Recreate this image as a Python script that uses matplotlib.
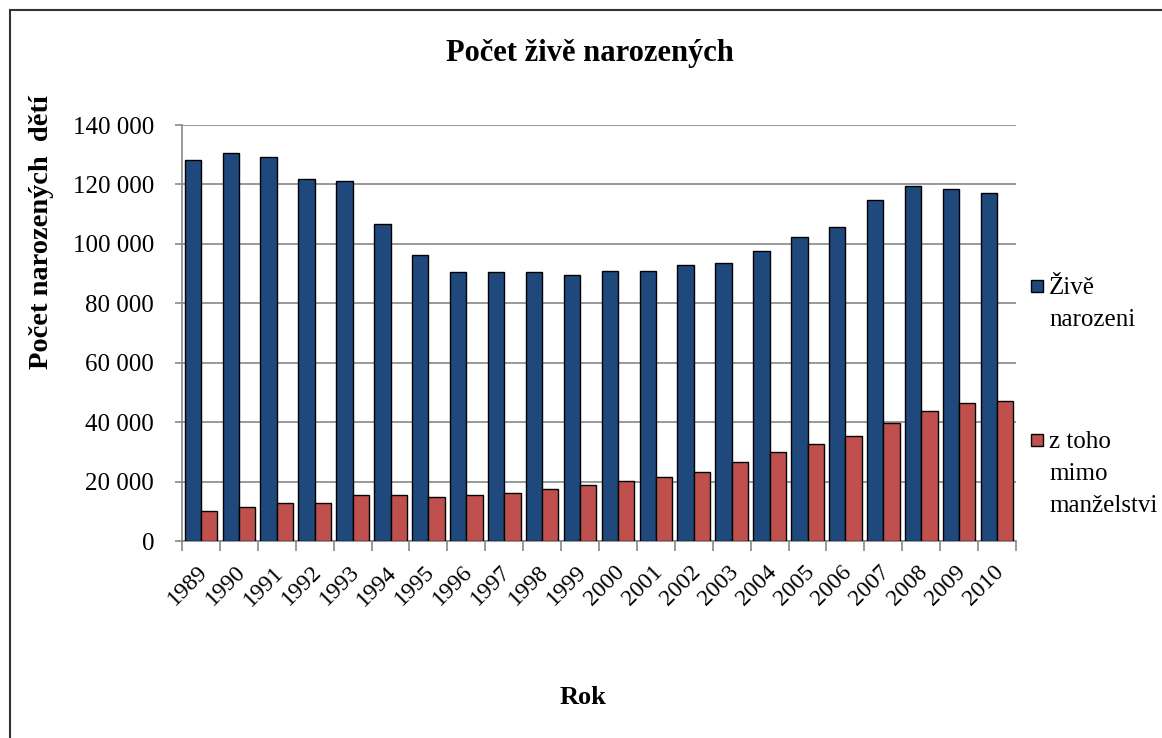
import numpy as np
import matplotlib.pyplot as plt
import matplotlib.transforms as mtransforms
from matplotlib.patches import Rectangle
from matplotlib.lines import Line2D
from matplotlib.ticker import FuncFormatter, FixedLocator

# Data
years = [str(y) for y in range(1989, 2011)]
zive = [128356, 130564, 129354, 121705, 121025, 106579, 96097, 90446,
        90657, 90535, 89471, 90910, 90715, 92786, 93685, 97664, 102211,
        105831, 114632, 119570, 118348, 117153]
mimo = [10200, 11500, 12900, 12900, 15500, 15500, 14800, 15500,
        16200, 17500, 18700, 20100, 21400, 23300, 26600, 29800, 32500,
        35200, 39700, 43600, 46300, 47000]
labels = ['Živě\nnarozeni', 'z toho\nmimo\nmanželstvi']
colors = ['#1F497D', '#C0504D']

plt.rcParams['font.family'] = ['Liberation Serif', 'DejaVu Serif']

W, H = 1162, 738
fig = plt.figure(figsize=(W / 100, H / 100), dpi=100)
ax = fig.add_axes([182 / W, 1 - 541 / H, (1016 - 182) / W, (541 - 125) / H])

x = np.arange(len(years))
bw = 0.43
ax.bar(x - bw / 2, zive, bw, color=colors[0], edgecolor='black', linewidth=1, zorder=3)
ax.bar(x + bw / 2, mimo, bw, color=colors[1], edgecolor='black', linewidth=1, zorder=3)

ax.set_xlim(-0.5, len(years) - 0.5)
ax.set_ylim(0, 140000)
ax.set_yticks(np.arange(0, 140001, 20000))
ax.yaxis.set_major_formatter(FuncFormatter(lambda v, p: f'{int(v):,}'.replace(',', ' ')))
ax.grid(axis='y', color='#888888', linewidth=1.2, zorder=0)

# ticks between categories, labels at category centres
ax.set_xticks(x)
ax.set_xticklabels(years, rotation=45, ha='right', rotation_mode='anchor', fontsize=17)
ax.tick_params(axis='x', length=0, pad=15)
shift = mtransforms.ScaledTranslation(-4 / 100, 0, fig.dpi_scale_trans)
for t in ax.get_xticklabels():
    t.set_transform(t.get_transform() + shift)
ax.xaxis.set_minor_locator(FixedLocator(np.arange(-0.5, len(years), 1)))
ax.tick_params(axis='x', which='minor', length=7, color='#888888', width=1.2)
ax.tick_params(axis='y', length=5, color='#888888', width=1.2, labelsize=18, pad=15)

for s in ['top', 'right']:
    ax.spines[s].set_visible(False)
for s in ['left', 'bottom']:
    ax.spines[s].set_color('#888888')
    ax.spines[s].set_linewidth(1.2)

fig.text(590 / W, 1 - 53 / H, 'Počet živě narozených', ha='center', va='center',
         fontsize=22, fontweight='bold')
fig.text(42 / W, 1 - 232 / H, 'Počet narozených  dětí', ha='center', va='center',
         rotation=90, fontsize=20.5, fontweight='bold')
fig.text(583 / W, 1 - 697 / H, 'Rok', ha='center', va='center', fontsize=19, fontweight='bold')

# legend drawn by hand so the squares sit on the first text line
for lab, col, ytop in zip(labels, colors, [286, 440]):
    fig.patches.append(Rectangle((1031 / W, 1 - (ytop + 6) / H), 12 / W, 12 / H,
                                 facecolor=col, edgecolor='black', linewidth=1,
                                 transform=fig.transFigure, figure=fig))
    fig.text(1049 / W, 1 - (ytop - 9) / H, lab, ha='left', va='top',
             fontsize=18, linespacing=1.6)

# outer frame (top and left edges are visible)
fig.add_artist(Line2D([10 / W, 1], [1 - 10 / H, 1 - 10 / H], color='#333333',
                      linewidth=1.5, transform=fig.transFigure))
fig.add_artist(Line2D([10 / W, 10 / W], [0, 1 - 10 / H], color='#333333',
                      linewidth=1.5, transform=fig.transFigure))

fig.savefig('out.png', dpi=100)
